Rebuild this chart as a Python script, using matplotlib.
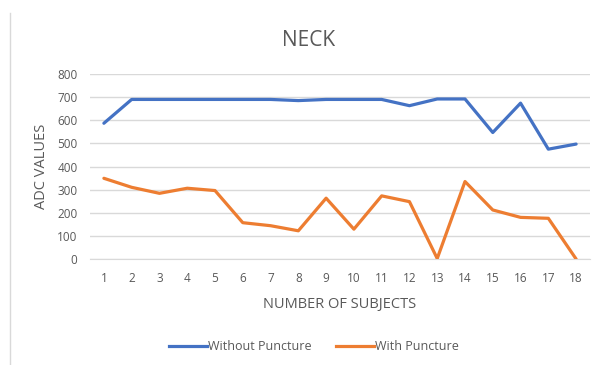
import matplotlib.pyplot as plt
from matplotlib.lines import Line2D

subjects = [str(i) for i in range(1, 19)]
withoutPuncture = [587, 690, 690, 690, 690, 690, 690, 685, 690, 690, 690, 663, 692, 692, 547, 674, 475, 497]
withPuncture = [349, 310, 284, 306, 296, 157, 144, 122, 263, 129, 273, 248, 2, 335, 212, 180, 176, 0]
yTicks = [0, 100, 200, 300, 400, 500, 600, 700, 800]

textGray = "#595959"
plt.rcParams['font.family'] = ['Open Sans', 'DejaVu Sans']

figure = plt.figure(figsize=(5.95, 3.65), dpi=100)
ax = figure.add_axes([90 / 595, 1 - 259 / 365, 500 / 595, 185 / 365])

xs = range(len(subjects))
ax.plot(xs, withoutPuncture, color="#4472C4", linewidth=2.3, solid_capstyle="round", zorder=3)
ax.plot(xs, withPuncture, color="#ED7D31", linewidth=2.3, solid_capstyle="round", zorder=3)

ax.set_xlim(-0.5, len(subjects) - 0.5)
ax.set_ylim(0, 800)
ax.set_xticks(list(xs))
ax.set_xticklabels(subjects)
ax.set_yticks(yTicks)
ax.tick_params(length=0, labelsize=8.5, colors=textGray)
ax.tick_params(axis="x", pad=9)
ax.tick_params(axis="y", pad=9)
ax.grid(axis="y", color="#D9D9D9", linewidth=1)
ax.set_axisbelow(True)
for side in ["top", "right", "left"]:
    ax.spines[side].set_visible(False)
ax.spines["bottom"].set_color("#D9D9D9")

ax.set_xlabel("NUMBER OF SUBJECTS", fontsize=10.5, color=textGray, labelpad=9)
ax.set_ylabel("ADC VALUES", fontsize=10.5, color=textGray, labelpad=6)
figure.text(309 / 595, 1 - 40 / 365, "NECK", fontsize=15, color=textGray, ha="center", va="center")

# Legend below the plot
handles = [Line2D([], [], color="#4472C4", linewidth=2.3),
           Line2D([], [], color="#ED7D31", linewidth=2.3)]
figure.legend(handles, ["Without Puncture", "With Puncture"], loc="center",
              bbox_to_anchor=(314 / 595, 1 - 347 / 365), ncol=2, frameon=False,
              fontsize=9, labelcolor=textGray, handlelength=3, handletextpad=0.1,
              columnspacing=2)

# light frame line on the left
figure.add_artist(Line2D([10 / 595, 10 / 595], [0, 1 - 13 / 365], color="#D9D9D9", linewidth=1))

plt.savefig("out.png", dpi=100)
